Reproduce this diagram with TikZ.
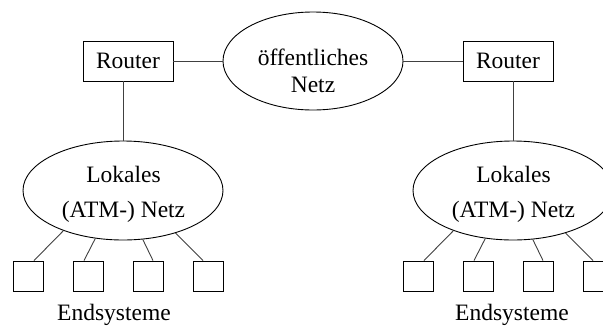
\documentclass[tikz,border=0pt]{standalone}
\usepackage{fontspec}
\setmainfont{Liberation Serif}
\usetikzlibrary{shapes.geometric}
\begin{document}
\begin{tikzpicture}[x=1pt,y=-1pt,
  every node/.style={font=\fontsize{23.5}{27}\selectfont},
  conn/.style={line width=0.9pt, draw=black!75},
  routerbox/.style={draw, line width=0.9pt, minimum width=90pt, minimum height=40pt, inner sep=0pt},
  endbox/.style={draw, line width=0.9pt, minimum width=30pt, minimum height=30pt, inner sep=0pt},
  netell/.style={draw, ellipse, line width=0.9pt, inner sep=0pt},
  lbl/.style={anchor=base, inner sep=0pt}]
\useasboundingbox (0,0) rectangle (603,325);
\clip (0,0) rectangle (603,325);

% public network
\node[netell, minimum width=180pt, minimum height=98pt] (pub) at (313,61) {};
\node[lbl] (pubt1) at (313,65) {öffentliches};
\node[lbl] (pubt2) at (313,92) {Netz};

% routers
\node[routerbox] (rl) at (128,61) {Router};
\node[routerbox] (rr) at (508,61) {Router};

\draw[conn] (rl.east) -- (pub.west);
\draw[conn] (pub.east) -- (rr.west);

% local networks
\foreach \n/\cx/\tx in {L/123/114, R/513/512} {
  \node[netell, minimum width=200pt, minimum height=99pt] (lok\n) at (\cx,190.5) {};
  \node[lbl] (lok\n t1) at (\cx+0.5,182) {Lokales};
  \node[lbl] (lok\n t2) at (\cx+0.5,217) {(ATM-) Netz};
  \node[endbox] (e\n1) at (\cx-94.5,276) {};
  \node[endbox] (e\n2) at (\cx-34.5,276) {};
  \node[endbox] (e\n3) at (\cx+25,276) {};
  \node[endbox] (e\n4) at (\cx+85,276) {};
  \draw[conn] (lok\n.214.7) -- ([xshift=5.5pt]e\n1.north);
  \draw[conn] (lok\n.240.9) -- ([xshift=-4.5pt]e\n2.north);
  \draw[conn] (lok\n.292.4) -- ([xshift=5pt]e\n3.north);
  \draw[conn] (lok\n.321.8) -- ([xshift=-5pt]e\n4.north);
  \node[lbl] (end\n) at (\tx,320) {Endsysteme};
}

\draw[conn] (rl.south -| lokL.north) -- (lokL.north);
\draw[conn] (rr.south -| lokR.north) -- (lokR.north);
\end{tikzpicture}
\end{document}
